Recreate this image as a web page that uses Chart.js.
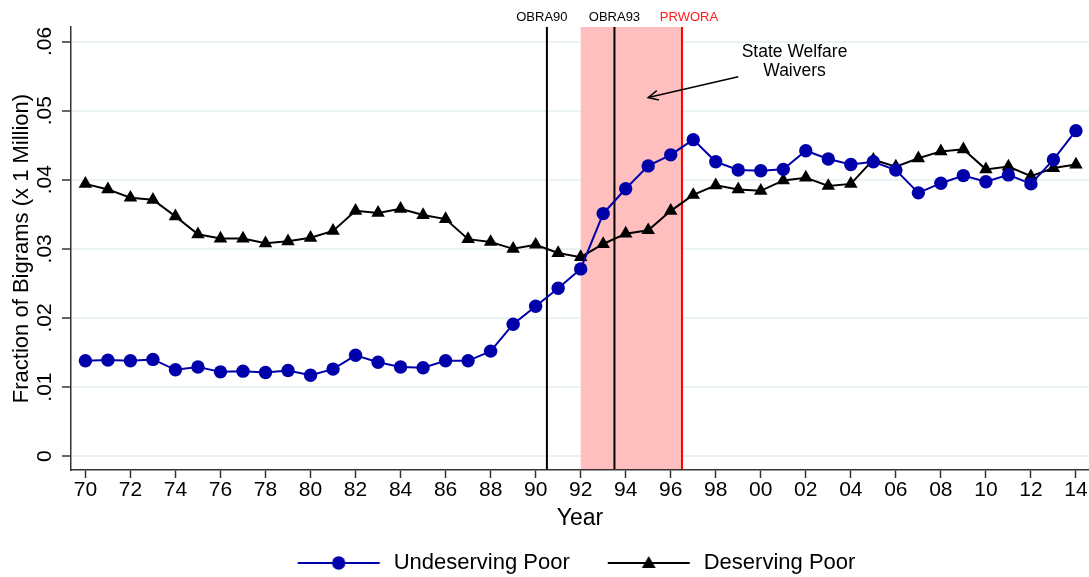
<!DOCTYPE html>
<html>
<head>
<meta charset="utf-8">
<script src="https://cdn.jsdelivr.net/npm/chart.js@4/dist/chart.umd.min.js"></script>
<style>
html,body{margin:0;padding:0;background:#fff;}
#wrap{width:1089px;height:577px;}
</style>
</head>
<body>
<div id="wrap"><canvas id="c" width="1089" height="577"></canvas></div>
<script>
// ---------- data ----------
const years = [1970,1971,1972,1973,1974,1975,1976,1977,1978,1979,
               1980,1981,1982,1983,1984,1985,1986,1987,1988,1989,
               1990,1991,1992,1993,1994,1995,1996,1997,1998,1999,
               2000,2001,2002,2003,2004,2005,2006,2007,2008,2009,
               2010,2011,2012,2013,2014];
const undeserving = [.0138,.0139,.0138,.0140,.0125,.0129,.0122,.0123,.0121,.0124,
                     .0117,.0126,.0146,.0136,.0129,.0128,.0138,.0138,.0152,.0191,
                     .0217,.0243,.0271,.0351,.0387,.0420,.0436,.0458,.0426,.0414,
                     .0413,.0415,.0442,.0430,.0422,.0426,.0414,.0381,.0395,.0406,
                     .0397,.0407,.0394,.0429,.0471];
const deserving = [.0394,.0386,.0374,.0371,.0347,.0321,.0315,.0315,.0308,.0311,
                   .0316,.0326,.0355,.0352,.0358,.0349,.0343,.0314,.0310,.0300,
                   .0306,.0294,.0288,.0307,.0322,.0327,.0355,.0378,.0392,.0386,
                   .0384,.0399,.0403,.0391,.0394,.0429,.0419,.0431,.0441,.0444,
                   .0415,.0419,.0405,.0417,.0422];
const seriesNames = ['Undeserving Poor','Deserving Poor'];
const xTickValues = [1970,1972,1974,1976,1978,1980,1982,1984,1986,1988,1990,1992,
                     1994,1996,1998,2000,2002,2004,2006,2008,2010,2012,2014];
const xTickLabels = ['70','72','74','76','78','80','82','84','86','88','90','92',
                     '94','96','98','00','02','04','06','08','10','12','14'];
const yTickValues = [0,0.01,0.02,0.03,0.04,0.05,0.06];
const yTickLabels = ['0','.01','.02','.03','.04','.05','.06'];
const policyYears = [1990.5,1993.5,1996.5];
const policyLabels = ['OBRA90','OBRA93','PRWORA'];
const waiverSpan = [1992,1996.5];
const waiverText = ['State Welfare','Waivers'];

// ---------- styles ----------
const FONT = "'Liberation Sans', Arial, Helvetica, sans-serif";
Chart.defaults.font.family = FONT;
Chart.defaults.color = '#000';
const BLUE = '#0000AA';
const AXIS = '#333333';

function legendImage(color, shape){
  const c = document.createElement('canvas');
  c.width = 100; c.height = 20;
  const g = c.getContext('2d');
  g.strokeStyle = color; g.lineWidth = 2;
  g.beginPath(); g.moveTo(4,10); g.lineTo(86,10); g.stroke();
  g.fillStyle = color;
  g.beginPath();
  if (shape === 'circle'){ g.arc(45,10,6.7,0,Math.PI*2); }
  else { const r=8; g.moveTo(45,11-r); g.lineTo(45+r*0.866,11+r/2); g.lineTo(45-r*0.866,11+r/2); g.closePath(); }
  g.fill();
  return c;
}
const legendImages = [legendImage(BLUE,'circle'), legendImage('#000','triangle')];

const annotationPlugin = {
  id: 'policyAnnotations',
  beforeDatasetsDraw(chart){
    const {ctx, chartArea:a, scales:{x}} = chart;
    ctx.save();
    const x0 = x.getPixelForValue(waiverSpan[0]);
    const x1 = x.getPixelForValue(waiverSpan[1]);
    ctx.fillStyle = '#FFBFBF';
    ctx.fillRect(x0, a.top, x1-x0, a.bottom-a.top-1);
    const colors = ['#000','#000','#FF0000'];
    policyYears.forEach((yr,i)=>{
      const px = x.getPixelForValue(yr);
      ctx.strokeStyle = colors[i]; ctx.lineWidth = 2;
      ctx.beginPath(); ctx.moveTo(px,a.top); ctx.lineTo(px,a.bottom-1); ctx.stroke();
    });
    ctx.restore();
  },
  afterDraw(chart){
    const {ctx, chartArea:a, scales:{x,y}} = chart;
    ctx.save();
    const colors = ['#000','#000','#FF1A1A'];
    const dx = [-5,0,7];
    ctx.font = '13px ' + FONT;
    ctx.textAlign = 'center'; ctx.textBaseline = 'middle';
    policyYears.forEach((yr,i)=>{
      ctx.fillStyle = colors[i];
      ctx.fillText(policyLabels[i], x.getPixelForValue(yr)+dx[i], a.top-10);
    });
    ctx.fillStyle = '#000';
    ctx.font = '17.5px ' + FONT;
    const tx = x.getPixelForValue(2001.5);
    ctx.fillText(waiverText[0], tx, y.getPixelForValue(0.0584));
    ctx.fillText(waiverText[1], tx, y.getPixelForValue(0.0557));
    const ax0 = x.getPixelForValue(1999.0), ay0 = y.getPixelForValue(0.0549);
    const ax1 = x.getPixelForValue(1995.0), ay1 = y.getPixelForValue(0.0519);
    ctx.strokeStyle = '#000'; ctx.lineWidth = 1.5;
    ctx.beginPath(); ctx.moveTo(ax0,ay0); ctx.lineTo(ax1,ay1); ctx.stroke();
    const ang = Math.atan2(ay1-ay0, ax1-ax0);
    const L = 11, w = 0.45;
    ctx.beginPath();
    ctx.moveTo(ax1 - L*Math.cos(ang-w), ay1 - L*Math.sin(ang-w));
    ctx.lineTo(ax1, ay1);
    ctx.lineTo(ax1 - L*Math.cos(ang+w), ay1 - L*Math.sin(ang+w));
    ctx.stroke();
    ctx.restore();
  }
};

const ctx = document.getElementById('c').getContext('2d');
new Chart(ctx, {
  type: 'line',
  data: {
    datasets: [
      {
        label: seriesNames[0],
        data: years.map((yr,i)=>({x:yr, y:undeserving[i]})),
        borderColor: BLUE, backgroundColor: BLUE,
        borderWidth: 2, pointRadius: 6.7, pointHoverRadius: 6.7,
        pointStyle: 'circle', pointBorderWidth: 0, tension: 0
      },
      {
        label: seriesNames[1],
        data: years.map((yr,i)=>({x:yr, y:deserving[i]})),
        borderColor: '#000', backgroundColor: '#000',
        borderWidth: 2, pointRadius: 7.8, pointHoverRadius: 7.8,
        pointStyle: 'triangle', pointBorderWidth: 0, tension: 0
      }
    ]
  },
  options: {
    responsive: false,
    animation: false,
    events: [],
    layout: { autoPadding: false, padding: { top: 27, bottom: -7, left: 0, right: 0 } },
    scales: {
      x: {
        type: 'linear', min: 1969.36, max: 2014.58,
        afterBuildTicks: s => { s.ticks = xTickValues.map(v=>({value:v})); },
        ticks: { callback: (v,i)=>xTickLabels[i], autoSkip:false, maxRotation:0, minRotation:0,
                 padding: 0, font:{size:21}, color:'#000' },
        grid: { drawOnChartArea:false, tickColor:AXIS, tickLength:8, tickWidth:1.5 },
        border: { color:AXIS, width:1.5 },
        title: { display:true, text:'Year', font:{size:23}, color:'#000', padding:{top:0,bottom:-25} },
        afterFit: s => { s.height = 37; }
      },
      y: {
        type: 'linear', min: -0.0020, max: 0.0621,
        afterBuildTicks: s => { s.ticks = yTickValues.map(v=>({value:v})); },
        ticks: { callback: (v,i)=>yTickLabels[i], minRotation:90, maxRotation:90, crossAlign:'center',
                 padding: 2, font:{size:21}, color:'#000' },
        grid: { color:'#EAF2F3', lineWidth:2, tickColor:AXIS, tickLength:9, tickWidth:1.5 },
        border: { color:AXIS, width:1.5 },
        title: { display:true, text:'Fraction of Bigrams (x 1 Million)', font:{size:22}, color:'#000',
                 padding:{top:8.5,bottom:0} },
        afterFit: s => { s.width = 71; }
      }
    },
    plugins: {
      legend: {
        position: 'bottom', fullSize: false,
        labels: {
          usePointStyle: true, pointStyleWidth: 78, padding: 45,
          font: { size: 22 }, color: '#000',
          generateLabels: chart => chart.data.datasets.map((ds,i)=>({
            text: ds.label, pointStyle: legendImages[i], fillStyle: 'rgba(0,0,0,0)',
            strokeStyle: 'rgba(0,0,0,0)', lineWidth: 0, hidden: false, datasetIndex: i, fontColor: '#000'
          }))
        }
      },
      tooltip: { enabled: false }
    }
  },
  plugins: [annotationPlugin]
});
</script>
</body>
</html>
